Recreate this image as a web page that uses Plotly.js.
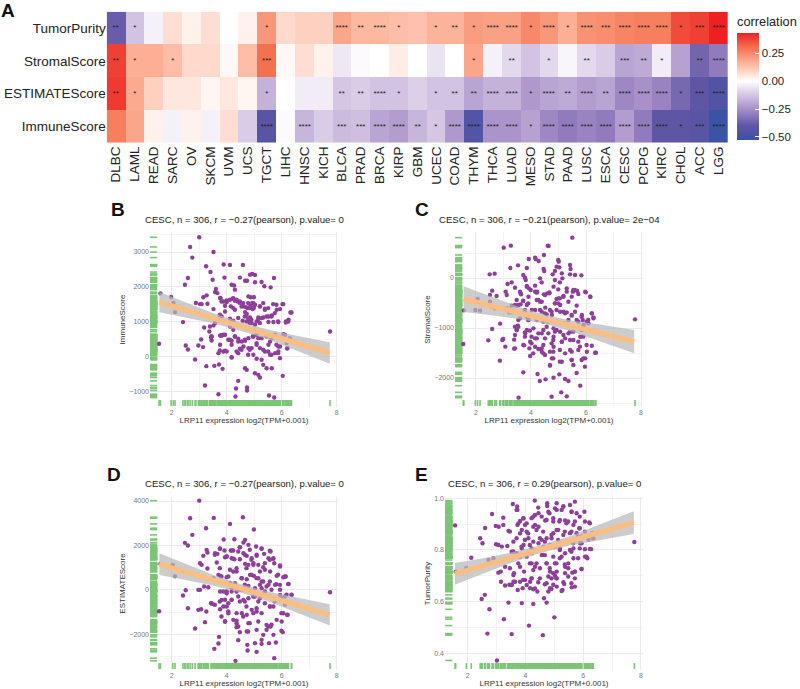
<!DOCTYPE html>
<html>
<head>
<meta charset="utf-8">
<script src="https://cdn.plot.ly/plotly-3.0.1.min.js"></script>
<style>html,body{margin:0;padding:0;background:#fff}</style>
</head>
<body>
<div id="chart" style="width:800px;height:689px"></div>
<script>
"use strict";

//HEATMAP DATA
const cancers = ["DLBC","LAML","READ","SARC","OV","SKCM","UVM","UCS","TGCT","LIHC","HNSC","KICH","BLCA","PRAD","BRCA","KIRP","GBM","UCEC","COAD","THYM","THCA","LUAD","MESO","STAD","PAAD","LUSC","ESCA","CESC","PCPG","KIRC","CHOL","ACC","LGG"];
const scores = ["TumorPurity","StromalScore","ESTIMATEScore","ImmuneScore"];

const corrPurity = [-.38,-.13,-.03,.07,.03,.07,0,.03,.22,.08,.1,.1,.19,.15,.15,.14,.13,.16,.16,.21,.2,.2,.25,.22,.17,.23,.24,.26,.27,.27,.36,.38,.43];
const corrStromal = [.38,.17,.17,.14,.08,.08,.015,.14,.3,.015,.07,.03,-.05,-.01,0,.04,0,-.06,0,.19,-.03,-.08,-.13,-.08,-.02,-.08,-.11,-.2,-.19,-.04,-.21,-.36,-.3];
const corrEstimate = [.39,.18,.1,.05,.05,.02,.05,.02,-.17,0,-.04,-.04,-.12,-.11,-.13,-.13,-.1,-.13,-.13,-.2,-.17,-.17,-.23,-.2,-.19,-.22,-.2,-.27,-.25,-.28,-.35,-.4,-.45];
const corrImmune = [.27,.19,.03,-.03,.03,-.03,.07,-.11,-.42,-.01,-.16,-.11,-.15,-.14,-.2,-.22,-.16,-.12,-.23,-.44,-.24,-.24,-.21,-.27,-.3,-.28,-.3,-.22,-.3,-.4,-.4,-.42,-.52];

const starsPurity = ["**","*","","","","","","","*","","","","****","**","****","*","","*","**","*","****","****","*","****","*","****","***","****","****","****","*","***","****"];
const starsStromal = ["**","*","","*","","","","","***","","","","","","","","","","","*","","**","","*","","**","","***","**","*","","**","****"];
const starsEstimate = ["**","*","","","","","","","*","","","","**","**","****","*","","*","**","**","****","****","*","****","**","****","**","****","****","****","*","***","****"];
const starsImmune = ["","","","","","","","","****","","****","","***","***","****","****","**","*","****","****","****","****","*","****","****","****","****","****","****","****","*","***","****"];

const scaleVals = [-.527,-.4,-.25,-.1,0,.15,.3,.43];
const scaleColors = ["#3953A4","#5F55A5","#A890C8","#DCD0E8","#FFFFFF","#FDB8A0","#F4714F","#EE2024"];

//SCATTER DATA
const bx = [3.0,2.67,2.75,3.52,3.25,3.41,3.89,4.12,4.59,2.59,2.48,3.92,3.49,4.48,4.67,4.74,4.85,4.93,5.03,5.03,5.27,5.37,5.72,5.6,4.18,4.27,4.3,3.61,3.58,3.66,3.27,3.15,3.03,2.88,3.09,3.3,3.52,3.76,3.88,4.0,4.15,4.22,4.3,4.4,4.48,4.61,4.79,4.87,4.99,4.93,4.87,4.76,4.67,4.73,4.85,4.99,5.21,5.39,5.15,5.33,5.52,5.64,5.82,6.06,6.36,6.25,6.16,5.88,5.7,5.52,5.21,5.09,4.91,4.79,4.58,4.42,4.24,4.12,3.82,3.76,3.58,3.52,3.39,3.18,3.37,2.41,1.59,1.98,2.06,2.12,1.54,2.51,2.59,2.97,3.07,3.14,2.85,3.26,3.55,3.72,3.85,3.45,3.43,3.76,3.82,3.88,4.06,4.18,4.3,4.42,4.55,4.67,4.79,4.95,5.09,5.27,5.45,5.64,5.76,6.06,6.12,6.3,6.18,6.21,5.88,5.94,5.58,5.39,5.21,5.09,4.91,4.79,4.61,4.48,4.18,4.42,4.0,3.88,3.76,3.7,4.18,4.67,4.73,5.03,5.15,5.21,5.54,5.73,6.04,5.45,5.64,5.33,5.27,5.09,4.97,4.42,4.34,4.74,4.74,4.32,3.7,3.21,5.76,5.88,5.52,5.58,7.76];
const by = [3424,3145,2840,3000,2590,2425,2640,2630,2630,2255,2060,2265,2205,2265,2175,2175,2350,2370,2340,2130,2140,2015,2255,1985,2060,2040,1920,1940,1850,1820,1755,1700,1505,1535,1505,1515,1360,1680,1580,1565,1440,1660,1600,1580,1535,1440,1725,1700,1700,1535,1440,1390,1275,1220,1120,1390,1440,1370,1120,1120,1150,1180,1340,1505,1265,1055,1005,990,990,990,959,1007,959,1026,1026,1103,1026,1084,1151,1180,959,892,863,834,719,988,1813,1707,1534,1275,364,316,201,316,489,269,-86,-278,-269,-230,-355,575,547,604,604,623,480,450,575,508,432,450,527,575,623,527,575,527,623,643,623,527,384,240,144,-48,48,144,240,384,240,240,288,220,-29,96,144,144,336,96,336,-336,-384,-480,-527,-604,-1122,-1180,-556,-336,-336,-240,-96,-67,48,-700,-921,-892,-978,-1151,-1084,-834,96,288,336,432,719];
const bxMore = [4.78,4.87,4.97,4.84,4.94,4.7,5.03,4.48,4.6,4.36,4.24,4.12,4.0,3.94,3.81,3.78,4.24,4.3,4.54,5.21,5.33,5.39,5.51,5.69,5.81,6.03,5.75,5.94,5.63,5.45,5.27,5.15,5.87,6.24,6.32,6.15,4.9,4.78,4.66,5.03,4.84,4.72,3.75,3.94,4.12,4.24,4.3,4.12,4.42,4.66,4.97,5.15,5.09,4.84,4.54,4.36,5.33,5.51,5.81,5.94,6.2,3.94,3.81,3.45,3.45,3.75,3.94,4.18,4.78,5.63,5.87];
const byMore = [1533,1456,1533,1389,1361,1418,1485,1581,1533,1629,1677,1629,1610,1456,1581,1677,1389,1341,1437,1437,1533,1341,1389,1504,1485,1504,1246,1361,1150,1150,1102,1054,1006,1006,1265,977,1054,1102,1150,910,958,1006,1198,1293,862,767,575,479,431,479,575,527,335,192,192,144,192,144,335,288,230,623,604,575,460,173,163,-19,48,48,96];

const cx = [5.5,3.27,3.01,4.61,4.64,4.47,3.92,4.15,4.18,4.28,4.99,5.01,4.93,5.42,5.44,3.25,3.53,3.85,4.46,4.48,5.03,4.87,4.79,5.12,5.42,5.6,5.83,2.5,2.68,3.72,3.78,3.81,4.33,4.39,4.87,5.14,5.05,3.15,3.3,3.42,2.59,2.51,2.75,3.08,3.12,3.6,3.64,3.85,3.92,3.99,4.15,4.23,4.47,4.59,4.67,4.99,5.3,5.52,5.6,5.68,5.99,6.16,5.48,5.18,5.05,4.93,4.87,4.99,3.71,3.9,4.21,4.33,4.52,3.3,3.48,3.62,2.51,2.06,1.98,2.15,1.56,2.57,2.69,3.12,3.21,3.3,3.78,4.15,4.39,4.57,4.75,4.93,5.18,5.3,5.48,5.66,5.84,6.21,6.27,6.08,6.02,5.88,5.66,5.36,5.18,4.93,4.63,4.45,4.21,3.9,3.84,3.54,3.52,3.42,2.88,2.59,2.45,1.54,2.99,2.96,3.07,3.39,3.42,3.48,3.39,3.75,3.78,3.96,3.78,4.02,4.15,4.27,4.45,4.63,4.87,4.93,5.18,5.36,5.54,5.84,5.9,5.72,5.42,5.12,4.81,4.75,4.45,4.27,4.02,3.94,4.08,4.39,4.51,4.69,4.81,5.05,5.24,5.48,5.78,6.02,6.36,5.9,5.84,5.96,5.48,5.54,4.81,4.69,5.05,2.87,3.72,4.24,4.32,4.53,4.82,5.03,5.24,5.36,5.66,5.79,5.1,5.3,4.75,3.55,7.78];
const cy = [807,647,607,647,640,460,380,407,373,340,360,327,227,260,180,200,253,200,180,140,213,140,73,93,73,60,53,73,87,60,7,-40,-7,-87,-40,-7,-87,-120,-87,-193,-253,-340,-360,-273,-340,-273,-327,-173,-207,-240,-273,-273,-327,-307,-287,-227,-207,-273,-240,-260,-287,-373,-373,-360,-407,-420,-507,-507,-460,-507,-440,-473,-593,-553,-553,-527,-473,-420,-640,-653,-647,-573,-607,-607,-687,-687,-640,-640,-673,-727,-673,-640,-673,-687,-753,-553,-773,-707,-787,-840,-873,-840,-840,-840,-907,-873,-873,-873,-840,-840,-773,-840,-953,-973,-913,-1020,-1247,-1320,-1220,-1240,-1373,-1233,-1140,-1040,-1413,-1347,-1087,-1053,-1173,-1173,-1207,-1107,-1040,-1107,-1073,-1040,-1140,-1107,-1073,-1040,-1173,-1273,-1240,-1273,-1240,-1307,-1340,-1420,-1307,-1407,-1507,-1473,-1540,-1473,-1473,-1440,-1507,-1473,-1373,-1340,-1493,-1607,-1640,-1773,-1640,-1740,-1607,-1753,-1673,-1653,-1887,-1920,-2060,-2027,-1993,-1927,-2020,-2060,-1900,-2153,-2287,-2367,-2373,-2393,-827];
const cxMore = [3.85,4.15,3.63,3.91,4.21,4.51,4.67,4.82,5.18,5.0,5.3,5.54,5.72,5.97,6.15,3.48,3.72,4.27,4.39,4.88,5.06,5.36,3.42,3.54,3.85,4.03,4.33,4.51,4.69,4.76,5.06,5.24,5.48,5.6,5.85,6.21,6.27,6.09,5.91,5.72,3.6,3.91,3.54,4.09,3.85,3.79,3.48,4.39,4.57,4.82,5.06,5.42,5.79,5.54,5.24,4.82,4.51,4.21,3.97,3.72,3.42,4.15,4.39,4.45,4.82,5.12,5.42,5.72,6.03,6.33,6.21,5.97,5.48,5.12,4.76,4.69,3.97];
const cyMore = [-160,-153,-307,-374,-293,-340,-307,-173,-374,-407,-273,-240,-320,-273,-374,-440,-454,-440,-474,-507,-540,-474,-540,-540,-540,-640,-640,-707,-640,-740,-674,-707,-740,-674,-740,-707,-807,-907,-940,-874,-807,-840,-974,-1007,-1040,-1107,-1040,-1107,-974,-1007,-1074,-1074,-1174,-1241,-1207,-1174,-1207,-1207,-1274,-1341,-1407,-1374,-1407,-1507,-1374,-1274,-1441,-1441,-1474,-1494,-1354,-1607,-1641,-1674,-1607,-1741,-1561];

const dx = [3.0,2.67,2.75,3.53,4.12,4.59,4.99,3.25,2.48,2.59,3.89,4.28,4.67,4.61,4.48,4.79,5.07,5.27,5.6,3.76,3.58,3.66,3.27,3.3,3.15,3.92,4.15,4.24,4.42,4.61,4.73,4.91,5.09,5.36,5.52,5.7,5.73,5.94,3.03,3.09,3.3,3.64,3.94,4.0,4.18,4.28,4.48,4.67,4.79,4.97,5.15,5.33,5.58,5.82,6.06,6.15,6.25,6.36,6.12,5.94,5.76,5.52,5.33,5.15,4.99,4.85,4.55,4.73,4.36,4.24,4.06,3.76,3.7,3.52,3.33,3.18,3.03,2.97,2.51,2.41,2.04,2.12,1.59,1.54,2.59,2.97,3.07,3.26,3.43,3.47,3.76,3.88,4.0,4.18,4.36,4.61,4.79,5.03,5.21,5.39,5.58,5.76,5.94,6.12,6.06,6.22,6.0,6.04,5.82,5.7,5.58,5.39,5.21,5.03,4.79,4.61,4.42,4.18,4.06,3.82,3.88,4.06,3.94,3.76,2.85,3.21,4.24,4.36,4.36,4.55,4.73,4.91,5.09,4.79,4.73,5.09,5.33,5.45,5.6,5.7,3.72,3.7,3.55,4.42,4.75,4.76,5.03,5.09,5.27,5.27,5.54,5.79,5.73,4.32,7.76];
const dy = [4015,3225,2475,3240,2970,3270,2715,2775,2115,1995,2265,2280,2250,2130,1920,2025,1950,1860,1725,1860,1650,1620,1800,1680,1530,1770,1770,1770,1725,1650,1530,1425,1530,1620,1425,1425,1200,1050,1200,1125,960,1230,1470,1500,1425,1380,1380,1170,1125,1200,1125,1020,825,630,570,600,270,-225,-300,225,225,225,375,525,630,675,525,480,975,825,600,630,675,525,120,150,0,0,-15,-255,1125,615,1170,-960,-825,-900,-870,-975,-600,-630,-75,-75,-150,75,-75,0,180,75,225,-75,-300,-375,-225,-675,-1050,-1125,-1425,-1905,-1350,-750,-750,-600,-375,-300,-375,-450,-300,-450,-600,-450,-750,-1050,-1425,-870,-1740,-1455,-1350,-1500,-1680,-1050,-1125,-900,-975,-1500,-1875,-1800,-2025,-1575,-1650,-2025,-2115,-2415,-2655,-2265,-2475,-2730,-2400,-2790,-2250,-2430,-2400,-2370,-3075,-3195,-105];
const dxMore = [3.57,3.75,4.0,4.18,4.24,4.48,4.66,4.84,4.9,5.09,5.27,5.39,5.57,5.69,5.57,5.94,3.75,4.12,4.36,4.72,4.97,5.21,5.39,5.87,6.12,3.81,4.0,4.54,4.9,5.09,5.27,5.57,5.81,6.24,5.45,5.63,5.94,5.27,4.12,4.3,4.66,4.0,4.18,4.48,6.18,6.36,5.99,5.75,5.15,4.97,4.48,4.66,4.18,3.94,3.75,4.0,3.57,3.45,4.72,5.09,5.57,3.81,4.06,4.36,4.6,4.97,5.27,5.99,6.2,3.94,4.36,4.42,4.84,5.15,5.51,5.63,4.78,4.48,5.99,5.45];
const dyMore = [1577,1847,1502,1772,1397,1922,1577,1802,1352,1577,1847,1202,1352,1397,1757,1097,977,902,827,977,1127,827,902,677,602,602,572,527,677,527,377,377,257,257,152,2,2,77,302,302,227,-73,-73,2,-223,-223,-343,-523,-523,-298,-523,-523,-448,-448,-523,-748,-673,-598,-748,-823,-748,-1198,-973,-1048,-1198,-1048,-1048,-1048,-1123,-1423,-1393,-1648,-1498,-1423,-1648,-1573,-1873,-1903,-1843,-1798];

const ex = [3.01,1.56,1.58,2.12,1.95,2.48,2.59,2.43,2.51,2.6,2.84,2.97,3.07,2.75,3.25,2.68,3.52,4.12,4.6,5.0,3.56,3.71,3.72,4.32,4.75,4.75,5.08,5.31,5.71,5.54,5.6,5.77,6.04,4.33,4.45,4.56,4.21,3.93,4.04,3.81,3.72,3.23,3.23,3.41,3.46,3.87,4.04,4.27,4.45,4.68,4.83,4.96,5.08,5.25,5.17,5.37,5.48,5.66,5.86,6.06,6.21,6.31,6.18,6.35,6.06,6.27,6.06,6.14,5.66,5.94,5.71,5.48,5.62,5.71,5.6,5.34,5.28,5.08,5.02,4.96,4.85,4.79,4.64,4.73,4.41,4.27,4.16,4.21,3.9,3.73,3.52,3.44,3.29,3.41,3.87,4.27,3.15,3.14,3.06,2.72,2.89,2.98,3.06,3.18,3.37,3.58,3.7,3.93,3.98,4.1,4.27,4.45,4.56,4.73,4.96,5.08,5.31,5.54,5.77,5.94,5.89,5.66,5.54,5.37,5.19,5.02,4.85,4.62,4.39,4.21,4.04,3.87,3.75,3.58,3.64,3.46,3.29,3.81,3.98,4.21,4.33,4.5,4.62,4.73,4.85,5.02,5.19,5.37,5.48,5.08,4.79,4.5,4.16,3.95,4.73,5.08,5.37,7.77];
const ey = [.372,.895,.716,.77,.73,.61,.626,.845,.826,.885,.939,.893,.89,.57,.532,.476,.474,.507,.47,.539,.978,.968,.955,.991,.981,.97,.981,.968,.987,.974,.948,.942,.948,.935,.942,.929,.923,.923,.903,.912,.897,.925,.897,.874,.871,.877,.871,.89,.89,.914,.942,.923,.955,.955,.91,.914,.91,.897,.884,.91,.906,.865,.839,.845,.803,.803,.774,.768,.768,.726,.716,.748,.712,.69,.655,.668,.645,.69,.7,.665,.652,.639,.613,.596,.639,.648,.652,.69,.652,.645,.665,.665,.662,.596,.594,.591,.677,.716,.712,.761,.768,.822,.819,.813,.815,.794,.787,.819,.839,.845,.832,.826,.839,.845,.865,.877,.858,.865,.865,.852,.826,.806,.8,.787,.8,.813,.819,.813,.8,.787,.774,.806,.748,.703,.677,.729,.735,.677,.684,.748,.735,.729,.781,.748,.716,.748,.768,.735,.729,.716,.697,.69,.677,.716,.671,.658,.71,.831];
const exMore = [3.69,4.44,3.92,4.27,4.79,5.02,5.31,5.59,5.88,6.23,3.75,3.98,4.33,4.73,4.96,5.19,5.42,5.71,5.88,6.06,3.81,4.09,4.38,4.61,4.9,5.13,5.36,5.59,5.82,6.34,3.69,3.98,4.15,4.5,4.67,4.9,5.13,5.42,5.65,5.94,6.23,3.86,3.58,3.52,3.81,4.21,4.61,4.84,5.19,5.59,5.88,4.96,5.25,4.56,4.67,6.11,5.82,4.15,4.38,4.73,5.07,5.36,5.94,5.71,3.81,4.27,4.84,4.96,3.6,4.9,5.07,5.48,5.59,5.71,4.44,4.21,3.92,3.58,3.52,4.04,4.33,4.67,4.9,5.31,5.25];
const eyMore = [.955,.964,.922,.929,.948,.961,.968,.948,.929,.903,.903,.897,.897,.916,.91,.916,.903,.91,.884,.871,.864,.864,.877,.871,.858,.877,.871,.871,.851,.845,.845,.839,.819,.845,.832,.845,.839,.832,.826,.826,.804,.813,.832,.793,.774,.806,.806,.813,.806,.793,.806,.774,.774,.78,.78,.774,.768,.748,.748,.748,.748,.744,.726,.716,.735,.722,.729,.71,.71,.69,.69,.697,.671,.658,.675,.69,.684,.677,.664,.664,.651,.667,.649,.675,.641];

//FIT LINES AND CONFIDENCE BANDS
const fitX = [1.55,7.75];
const fitB = [1560,100];
const fitC = [-420,-1273];
const fitD = [1155,-1125];
const fitE = [.707,.906];

const bandX = [1.55,2.5,3.5,4.5,5.5,6.5,7.75];
const upperB = [1850,1552,1252,992,772,600,410];
const lowerB = [1270,1122,952,742,492,190,-210];
const upperC = [-165,-361,-563,-736,-854,-931,-1040];
const lowerC = [-680,-741,-813,-916,-1074,-1271,-1507];
const upperD = [1645,1166,678,260,-78,-336,-645];
const lowerD = [665,446,198,-120,-518,-996,-1605];
const upperE = [.749,.767,.79,.817,.852,.896,.95];
const lowerE = [.665,.707,.75,.787,.816,.836,.862];

const FONT = '"Liberation Sans", Arial, sans-serif';
const W = 800, H = 689;

//paper fractions from page pixels
const fx = px => px/W;
const fy = px => 1 - px/H;

function heatTrace(){
	const z = [corrPurity, corrStromal, corrEstimate, corrImmune];
	const text = [starsPurity, starsStromal, starsEstimate, starsImmune];
	const lo = scaleVals[0], hi = scaleVals.at(-1);

	return {
		type: 'heatmap',
		x: cancers, y: scores, z: z,
		text: text,
		texttemplate: '%{text}',
		textfont: {family: FONT, size: 8, color: '#222'},
		zmin: lo, zmax: hi,
		colorscale: scaleVals.map((v, i) => [(v-lo)/(hi-lo), scaleColors[i]]),
		xaxis: 'x', yaxis: 'y',
		colorbar: {
			x: fx(737), xanchor: 'left',
			y: fy(33), yanchor: 'top',
			len: 107/H, lenmode: 'fraction',
			thickness: 22, thicknessmode: 'pixels',
			xpad: 0, ypad: 0,
			outlinewidth: 0,
			tickvals: [-.5,-.25,0,.25],
			ticktext: ["\u22120.50","\u22120.25","0.00","0.25"],
			ticks: 'inside', ticklen: 4, tickcolor: '#fff',
			tickfont: {family: FONT, size: 11.5, color: '#222'}
		}
	};
}

function panelTraces(n, xs, ys, fit, upper, lower, xr, yr){
	const xa = 'x' + n, ya = 'y' + n;
	const rugAtX = xr[0] + .019*(xr[1]-xr[0]);
	const rugAtY = yr[0] + .023*(yr[1]-yr[0]);
	const green = '#7CC576';

	return [
		{
			x: xs, y: ys.map(() => rugAtY), xaxis: xa, yaxis: ya,
			type: 'scatter', mode: 'markers', hoverinfo: 'skip',
			marker: {symbol: 'line-ns', size: 4.2, line: {width: 1.6, color: green}}
		},
		{
			x: xs.map(() => rugAtX), y: ys, xaxis: xa, yaxis: ya,
			type: 'scatter', mode: 'markers', hoverinfo: 'skip',
			marker: {symbol: 'line-ew', size: 5.2, line: {width: 1.6, color: green}}
		},
		{
			x: xs, y: ys, xaxis: xa, yaxis: ya,
			type: 'scatter', mode: 'markers',
			marker: {size: 4.4, color: '#8E3F98'}
		},
		{
			x: bandX.concat(bandX.slice().reverse()),
			y: upper.concat(lower.slice().reverse()),
			xaxis: xa, yaxis: ya,
			type: 'scatter', mode: 'lines', fill: 'toself', hoverinfo: 'skip',
			fillcolor: 'rgba(185,185,185,0.72)', line: {width: 0}
		},
		{
			x: fitX, y: fit, xaxis: xa, yaxis: ya,
			type: 'scatter', mode: 'lines',
			line: {color: '#FCBD80', width: 5}
		}
	];
}

function xAxis(n, left, right, range){
	const anchor = 'y' + n;
	return {
		domain: [fx(left), fx(right)], range: range, anchor: anchor,
		tickvals: [2,4,6,8], ticks: '', zeroline: false,
		showgrid: true, gridcolor: '#ebebeb', gridwidth: 1,
		minor: {tickvals: [3,5,7], showgrid: true, gridcolor: '#f4f4f4', ticks: ''},
		tickfont: {family: FONT, size: 7, color: '#777'},
		title: {text: 'LRP11 expression log2(TPM+0.001)', standoff: 2, font: {family: FONT, size: 8, color: '#333'}}
	};
}

function yAxis(n, top, bottom, range, vals, labels, minorVals, title){
	const anchor = 'x' + n;
	return {
		domain: [fy(bottom), fy(top)], range: range, anchor: anchor,
		tickvals: vals, ticktext: labels, ticks: '', zeroline: false,
		showgrid: true, gridcolor: '#ebebeb', gridwidth: 1,
		minor: {tickvals: minorVals, showgrid: true, gridcolor: '#f4f4f4', ticks: ''},
		tickfont: {family: FONT, size: 7, color: '#777'},
		title: {text: title, standoff: 2, font: {family: FONT, size: 8, color: '#333'}}
	};
}

function note(text, px, py, size, bold){
	return {
		text: bold? '<b>' + text + '</b>': text,
		xref: 'paper', yref: 'paper',
		x: fx(px), y: fy(py), showarrow: false,
		xanchor: 'center', yanchor: 'middle',
		font: {family: FONT, size: size, color: bold? '#111': '#222'}
	};
}

const rangeBx = [1.21,8.05], rangeBy = [-1451,3575];
const rangeCx = [1.24,8.07], rangeCy = [-2580,920];
const rangeDx = [1.21,8.05], rangeDy = [-3608,4180];
const rangeEx = [1.21,8.07], rangeEy = [.335,1.005];

const data = [heatTrace()].concat(
	panelTraces(2, bx.concat(bxMore), by.concat(byMore), fitB, upperB, lowerB, rangeBx, rangeBy),
	panelTraces(3, cx.concat(cxMore), cy.concat(cyMore), fitC, upperC, lowerC, rangeCx, rangeCy),
	panelTraces(4, dx.concat(dxMore), dy.concat(dyMore), fitD, upperD, lowerD, rangeDx, rangeDy),
	panelTraces(5, ex.concat(exMore), ey.concat(eyMore), fitE, upperE, lowerE, rangeEx, rangeEy)
);

const layout = {
	width: W, height: H,
	margin: {l: 0, r: 0, t: 0, b: 0},
	paper_bgcolor: '#fff', plot_bgcolor: '#fff',
	showlegend: false,
	font: {family: FONT},
	xaxis: {
		domain: [fx(106.7), fx(728)], anchor: 'y',
		tickangle: -90, ticks: '', ticklen: 0, showgrid: false, zeroline: false,
		tickfont: {family: FONT, size: 13.5, color: '#222'}
	},
	yaxis: {
		domain: [fy(142.7), fy(11.7)], anchor: 'x',
		autorange: 'reversed', ticks: '', showgrid: false, zeroline: false,
		tickfont: {family: FONT, size: 13.5, color: '#222'}
	},
	xaxis2: xAxis(2, 150, 338, rangeBx),
	yaxis2: yAxis(2, 232, 407, rangeBy, [-1000,0,1000,2000,3000], ["\u22121000","0","1000","2000","3000"], [-500,500,1500,2500,3500], 'ImmuneScore'),
	xaxis3: xAxis(3, 455, 643, rangeCx),
	yaxis3: yAxis(3, 232, 407, rangeCy, [-2000,-1000,0], ["\u22122000","\u22121000","0"], [-2500,-1500,-500,500], 'StromalScore'),
	xaxis4: xAxis(4, 150, 338, rangeDx),
	yaxis4: yAxis(4, 497, 670, rangeDy, [-2000,0,2000,4000], ["\u22122000","0","2000","4000"], [-3000,-1000,1000,3000], 'ESTIMATEScore'),
	xaxis5: xAxis(5, 445, 643, rangeEx),
	yaxis5: yAxis(5, 497, 670, rangeEy, [.4,.6,.8,1], ["0.4","0.6","0.8","1.0"], [.5,.7,.9], 'TumorPurity'),
	annotations: [
		note('A', 8, 11, 19, true),
		note('B', 118, 209, 19, true),
		note('C', 422, 210, 19, true),
		note('D', 114, 474, 19, true),
		note('E', 421, 474, 19, true),
		note('correlation', 767, 21, 12.8),
		note('CESC, n = 306, r = \u22120.27(pearson), p.value= 0', 244.5, 220, 9.6),
		note('CESC, n = 306, r = \u22120.21(pearson), p.value= 2e\u221204', 549, 220, 9.6),
		note('CESC, n = 306, r = \u22120.27(pearson), p.value= 0', 244.5, 483, 9.6),
		note('CESC, n = 306, r = 0.29(pearson), p.value= 0', 544, 483, 9.6)
	]
};

Plotly.newPlot('chart', data, layout, {displayModeBar: false});
</script>
</body>
</html>
